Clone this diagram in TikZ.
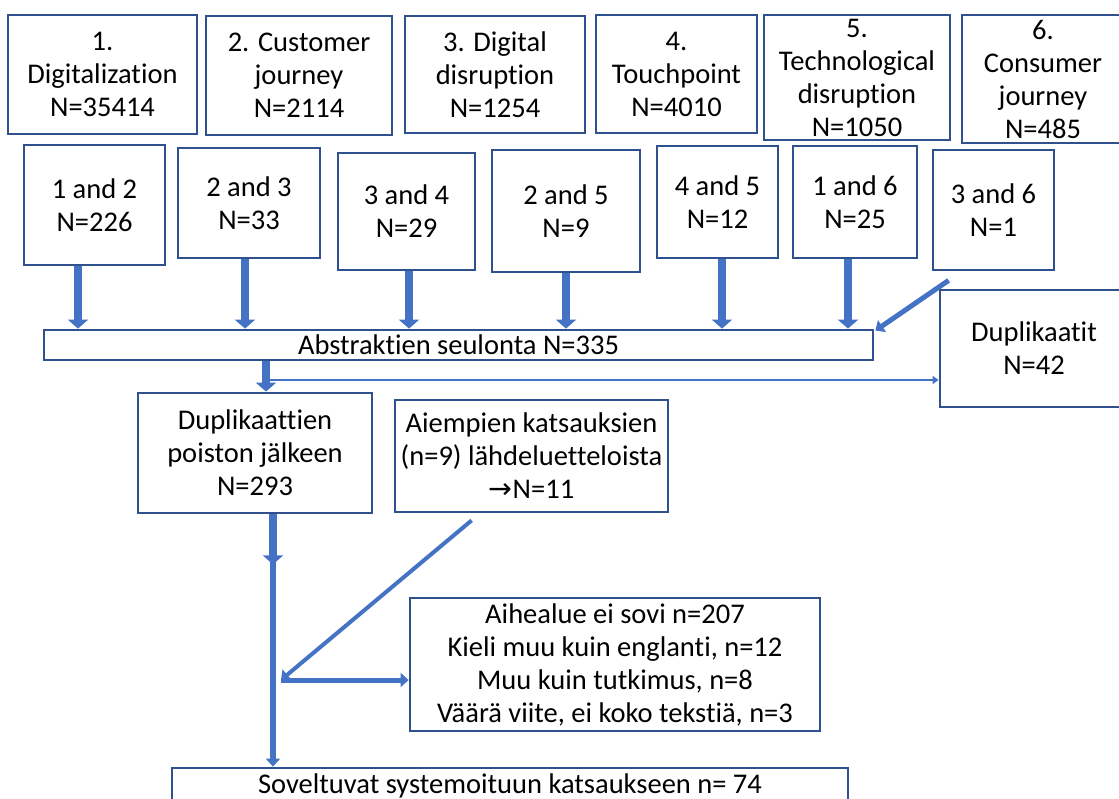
\documentclass[tikz,border=0pt]{standalone}
\usepackage{fontspec}
\setmainfont{Carlito}[Ligatures={NoCommon}]
\newfontfamily\symfnt{DejaVu Sans}
\usetikzlibrary{arrows.meta,calc}
\definecolor{bord}{RGB}{47,82,143}
\definecolor{fillb}{RGB}{68,114,196}
\newcommand{\mkbox}[6]{\node[box, minimum width={#4-#2}, minimum height={#5-#3}] (#1) at ({(#2+#4)/2},{(#3+#5)/2}) {#6};}
\begin{document}
\begin{tikzpicture}[x=1pt,y=-1pt,
  box/.style={draw=bord, line width=2.8pt, fill=white, inner sep=0pt, align=center,
    font=\fontsize{28.5}{33}\selectfont, text=black},
  blk/.style={draw=fillb, line width=8pt, -{Triangle[width=20pt,length=9pt]}},
  mid/.style={draw=fillb, line width=5pt, -{Triangle[width=14pt,length=8pt]}},
  thn/.style={draw=fillb, line width=2pt, -{Triangle[width=8pt,length=6pt]}}
]
\useasboundingbox (0,0) rectangle (1119,799);
\clip (0,0) rectangle (1119,799);
% top row
\mkbox{t1}{8}{15}{197}{134}{1.\\Digitalization\\N=35414}
\mkbox{t2}{206}{16}{392}{135}{2. Customer\\journey\\N=2114}
\mkbox{t3}{405}{16}{585}{133}{3. Digital\\disruption\\N=1254}
\mkbox{t4}{596}{15}{757}{133}{4.\\Touchpoint\\N=4010}
\mkbox{t5}{764}{15}{950}{140}{5.\\Technological\\disruption\\N=1050}
\mkbox{t6}{962}{15}{1124}{143}{6.\\Consumer\\journey\\N=485}
% second row
\mkbox{b12}{24}{145}{165}{265}{1 and 2\\N=226}
\mkbox{b23}{178}{148}{320}{258}{2 and 3\\N=33}
\mkbox{b34}{338}{153}{475}{270}{3 and 4\\N=29}
\mkbox{b25}{492}{150}{640}{272}{2 and 5\\N=9}
\mkbox{b45}{657}{146}{778}{258}{4 and 5\\N=12}
\mkbox{b16}{793}{146}{917}{258}{1 and 6\\N=25}
\mkbox{b36}{933}{150}{1054}{270}{3 and 6\\N=1}
% bar
\mkbox{bar}{44}{330}{873}{360}{Abstraktien seulonta N=335}
\mkbox{dupl}{940}{290}{1128}{407}{Duplikaatit\\N=42}
\mkbox{dup}{138}{393}{372}{513}{Duplikaattien\\poiston jälkeen\\N=293}
\mkbox{aie}{395}{400}{668}{512}{Aiempien katsauksien\\(n=9) lähdeluetteloista\\{\symfnt →}N=11}
\mkbox{aihe}{410}{598}{820}{731}{Aihealue ei sovi n=207\\Kieli muu kuin englanti, n=12\\Muu kuin tutkimus, n=8\\Väärä viite, ei koko tekstiä, n=3}
\mkbox{sov}{172}{768}{848}{803}{Soveltuvat systemoituun katsaukseen n= 74}
% arrows to bar
\draw[blk] ([xshift=-16.5pt]b12.south) -- ([xshift=-16.5pt]b12.south |- bar.north);
\draw[blk] ([xshift=-4pt]b23.south) -- ([xshift=-4pt]b23.south |- bar.north);
\draw[blk] ([xshift=2.5pt]b34.south) -- ([xshift=2.5pt]b34.south |- bar.north);
\draw[blk] (b25.south) -- (b25.south |- bar.north);
\draw[blk] ([xshift=4.5pt]b45.south) -- ([xshift=4.5pt]b45.south |- bar.north);
\draw[blk] ([xshift=-7pt]b16.south) -- ([xshift=-7pt]b16.south |- bar.north);
\draw[mid] ([xshift=17pt,yshift=-9pt]b36.south west) -- ([xshift=1pt,yshift=-2pt]bar.north east);
% bar to dup
\draw[blk] ([xshift=11pt]dup.north |- bar.south) -- ([xshift=11pt]dup.north);
\coordinate (split) at (268,380);
\draw[thn] (split) -- (split -| dupl.west);
% down to final
\draw[blk] ([xshift=18pt]dup.south) -- ([xshift=18pt,yshift=-50pt]dup.south);
\draw[mid, line width=6pt] ([xshift=18pt]dup.south) -- ([xshift=18pt]dup.south |- sov.north);
\coordinate (junc) at (281,680);
\draw[mid, line width=4pt] ([xshift=78pt,yshift=-7pt]aie.south west) -- (junc);
\draw[mid] (junc) -- (junc -| aihe.west);
\end{tikzpicture}
\end{document}
